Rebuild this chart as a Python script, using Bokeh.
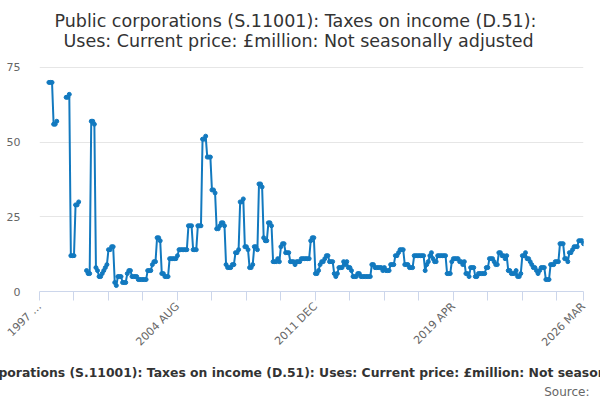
import math
import numpy as np
from bokeh.plotting import figure
from bokeh.models import FixedTicker, Range1d, Title
from bokeh.embed import file_html
from bokeh.resources import INLINE

# Titles and legend text
title_lines = ["Public corporations (S.11001): Taxes on income (D.51):",
               "Uses: Current price: £million: Not seasonally adjusted"]
series_name = ("Public corporations (S.11001): Taxes on income (D.51): "
               "Uses: Current price: £million: Not seasonally adjusted")
source_text = "Source:"

# Monthly values, 1997 APR .. 2026 MAR (one row = APR..MAR), None = no data
values = [
    None, None, None, None, None, None, 70, 70, 70, 56, 56, 57,
    None, None, None, None, None, 65, 65, 66, 12, 12, 12, 29,
    29, 30, None, None, None, None, 7, 6, 6, 57, 57, 56,
    8, 7, 5, 5, 6, 7, 8, 9, 14, 14, 15, 15,
    3, 2, 5, 5, 5, 3, 3, 3, 6, 7, 7, 5,
    5, 5, 5, 4, 4, 4, 4, 4, 4, 7, 7, 7,
    9, 10, 10, 18, 18, 17, 6, 6, 5, 5, 5, 11,
    11, 11, 11, 11, 12, 14, 14, 14, 14, 14, 14, 22,
    22, 22, 14, 14, 14, 22, 22, 22, 51, 51, 52, 45,
    45, 45, 34, 34, 33, 21, 21, 22, 23, 23, 22, 9,
    8, 8, 8, 9, 9, 13, 13, 14, 30, 30, 31, 15,
    15, 14, 8, 8, 9, 15, 15, 14, 36, 36, 35, 18,
    17, 17, 23, 23, 22, 10, 10, 10, 11, 10, 15, 16,
    16, 13, 13, 13, 10, 10, 10, 9, 10, 10, 10, 11,
    11, 11, 11, 11, 11, 17, 18, 18, 6, 6, 7, 9,
    10, 10, 11, 12, 12, 10, 10, 10, 6, 5, 6, 8,
    8, 8, 10, 9, 10, 8, 8, 7, 5, 5, 5, 6,
    6, 5, 5, 5, 5, 5, 5, 5, 9, 9, 8, 8,
    8, 8, 8, 7, 8, 7, 7, 7, 9, 9, 9, 12,
    12, 13, 14, 14, 14, 9, 9, 9, 8, 8, 8, 12,
    12, 12, 12, 12, 12, 12, 7, 9, 10, 12, 13, 11,
    10, 10, 12, 12, 12, 12, 12, 12, 6, 6, 6, 10,
    11, 11, 11, 11, 10, 10, 9, 10, 6, 6, 5, 8,
    8, 8, 5, 5, 6, 6, 6, 6, 6, 8, 8, 11,
    11, 11, 10, 9, 9, 13, 13, 12, 12, 11, 12, 7,
    7, 6, 6, 6, 7, 5, 5, 6, 12, 12, 13, 11,
    11, 10, 9, 8, 8, 7, 6, 7, 8, 8, 8, 4,
    4, 4, 9, 9, 9, 10, 10, 10, 16, 16, 16, 11,
    11, 10, 13, 13, 14, 15, 15, 15, 17, 17, 17, 16,
]

# x-axis ticks (month index) and their labels
tick_positions = [0, 22, 44, 66, 88, 110, 132, 154, 176, 198, 220, 242,
                  264, 286, 308, 330, 347]
tick_labels = {0: "1997 …", 88: "2004 AUG", 176: "2011 DEC",
               264: "2019 APR", 347: "2026 MAR"}
y_ticks = [0, 25, 50, 75]

blue = "#1279bf"
font = "DejaVu Sans"

x = np.arange(len(values))
y = np.array([np.nan if v is None else v for v in values], dtype=float)

# the page is drawn without a body margin, so canvas pixels = window pixels
p = figure(width=600, height=398, output_backend="svg", toolbar_location=None,
           x_range=Range1d(0, len(values) - 1), y_range=Range1d(0, 75.33),
           min_border_left=39, min_border_right=17, min_border_top=66,
           min_border_bottom=107)
p.outline_line_color = None
p.background_fill_color = "white"
p.border_fill_color = "white"

p.line(x, y, line_color=blue, line_width=2)
p.scatter(x, y, size=4, fill_color=blue, line_color=blue)

# title: p.title is the outermost line; p.above[0] sits next to the plot,
# so the spacer goes in first and the second title line after it
p.title.text = title_lines[0]
p.title.align = "left"
p.title.offset = 15
p.title.standoff = -2
p.title.text_font = font
p.title.text_font_size = "17.5px"
p.title.text_font_style = "normal"
p.title.text_color = "#333333"
p.add_layout(Title(text="\u00a0", align="left", standoff=-5,
                   text_font=font, text_font_size="17.5px"), "above")
p.add_layout(Title(text=title_lines[1], align="left", offset=24, standoff=-2,
                   text_font=font, text_font_size="17.5px", text_font_style="normal",
                   text_color="#333333"), "above")

# grid
p.xgrid.grid_line_color = None
p.ygrid.grid_line_color = "#e6e6e6"
p.ygrid.ticker = FixedTicker(ticks=y_ticks)

# y axis
p.yaxis.ticker = FixedTicker(ticks=y_ticks)
p.yaxis.axis_line_color = None
p.yaxis.major_tick_line_color = None
p.yaxis.minor_tick_line_color = None
p.yaxis.major_label_text_color = "#666666"
p.yaxis.major_label_text_font = font
p.yaxis.major_label_text_font_size = "11px"
p.yaxis.major_label_standoff = 13

# x axis
p.xaxis.ticker = FixedTicker(ticks=tick_positions)
p.xaxis.major_label_overrides = {t: tick_labels.get(t, "") for t in tick_positions}
p.xaxis.axis_line_color = "#ccd6eb"
p.xaxis.major_tick_line_color = "#ccd6eb"
p.xaxis.major_tick_in = 0
p.xaxis.major_tick_out = 9
p.xaxis.minor_tick_line_color = None
p.xaxis.major_label_orientation = math.pi / 4
p.xaxis.major_label_text_color = "#666666"
p.xaxis.major_label_text_font = font
p.xaxis.major_label_text_font_size = "11px"
p.xaxis.major_label_standoff = 4

# legend text and source below the axis
p.add_layout(Title(text=series_name, align="left", offset=-110, standoff=12,
                   text_font=font, text_font_size="12.4px", text_font_style="bold",
                   text_color="#333333"), "below")
p.add_layout(Title(text=source_text, align="right", offset=-6, standoff=-6,
                   text_font=font, text_font_size="12px", text_font_style="normal",
                   text_color="#666666"), "below")

open("out.html", "w").write(file_html(p, INLINE))
